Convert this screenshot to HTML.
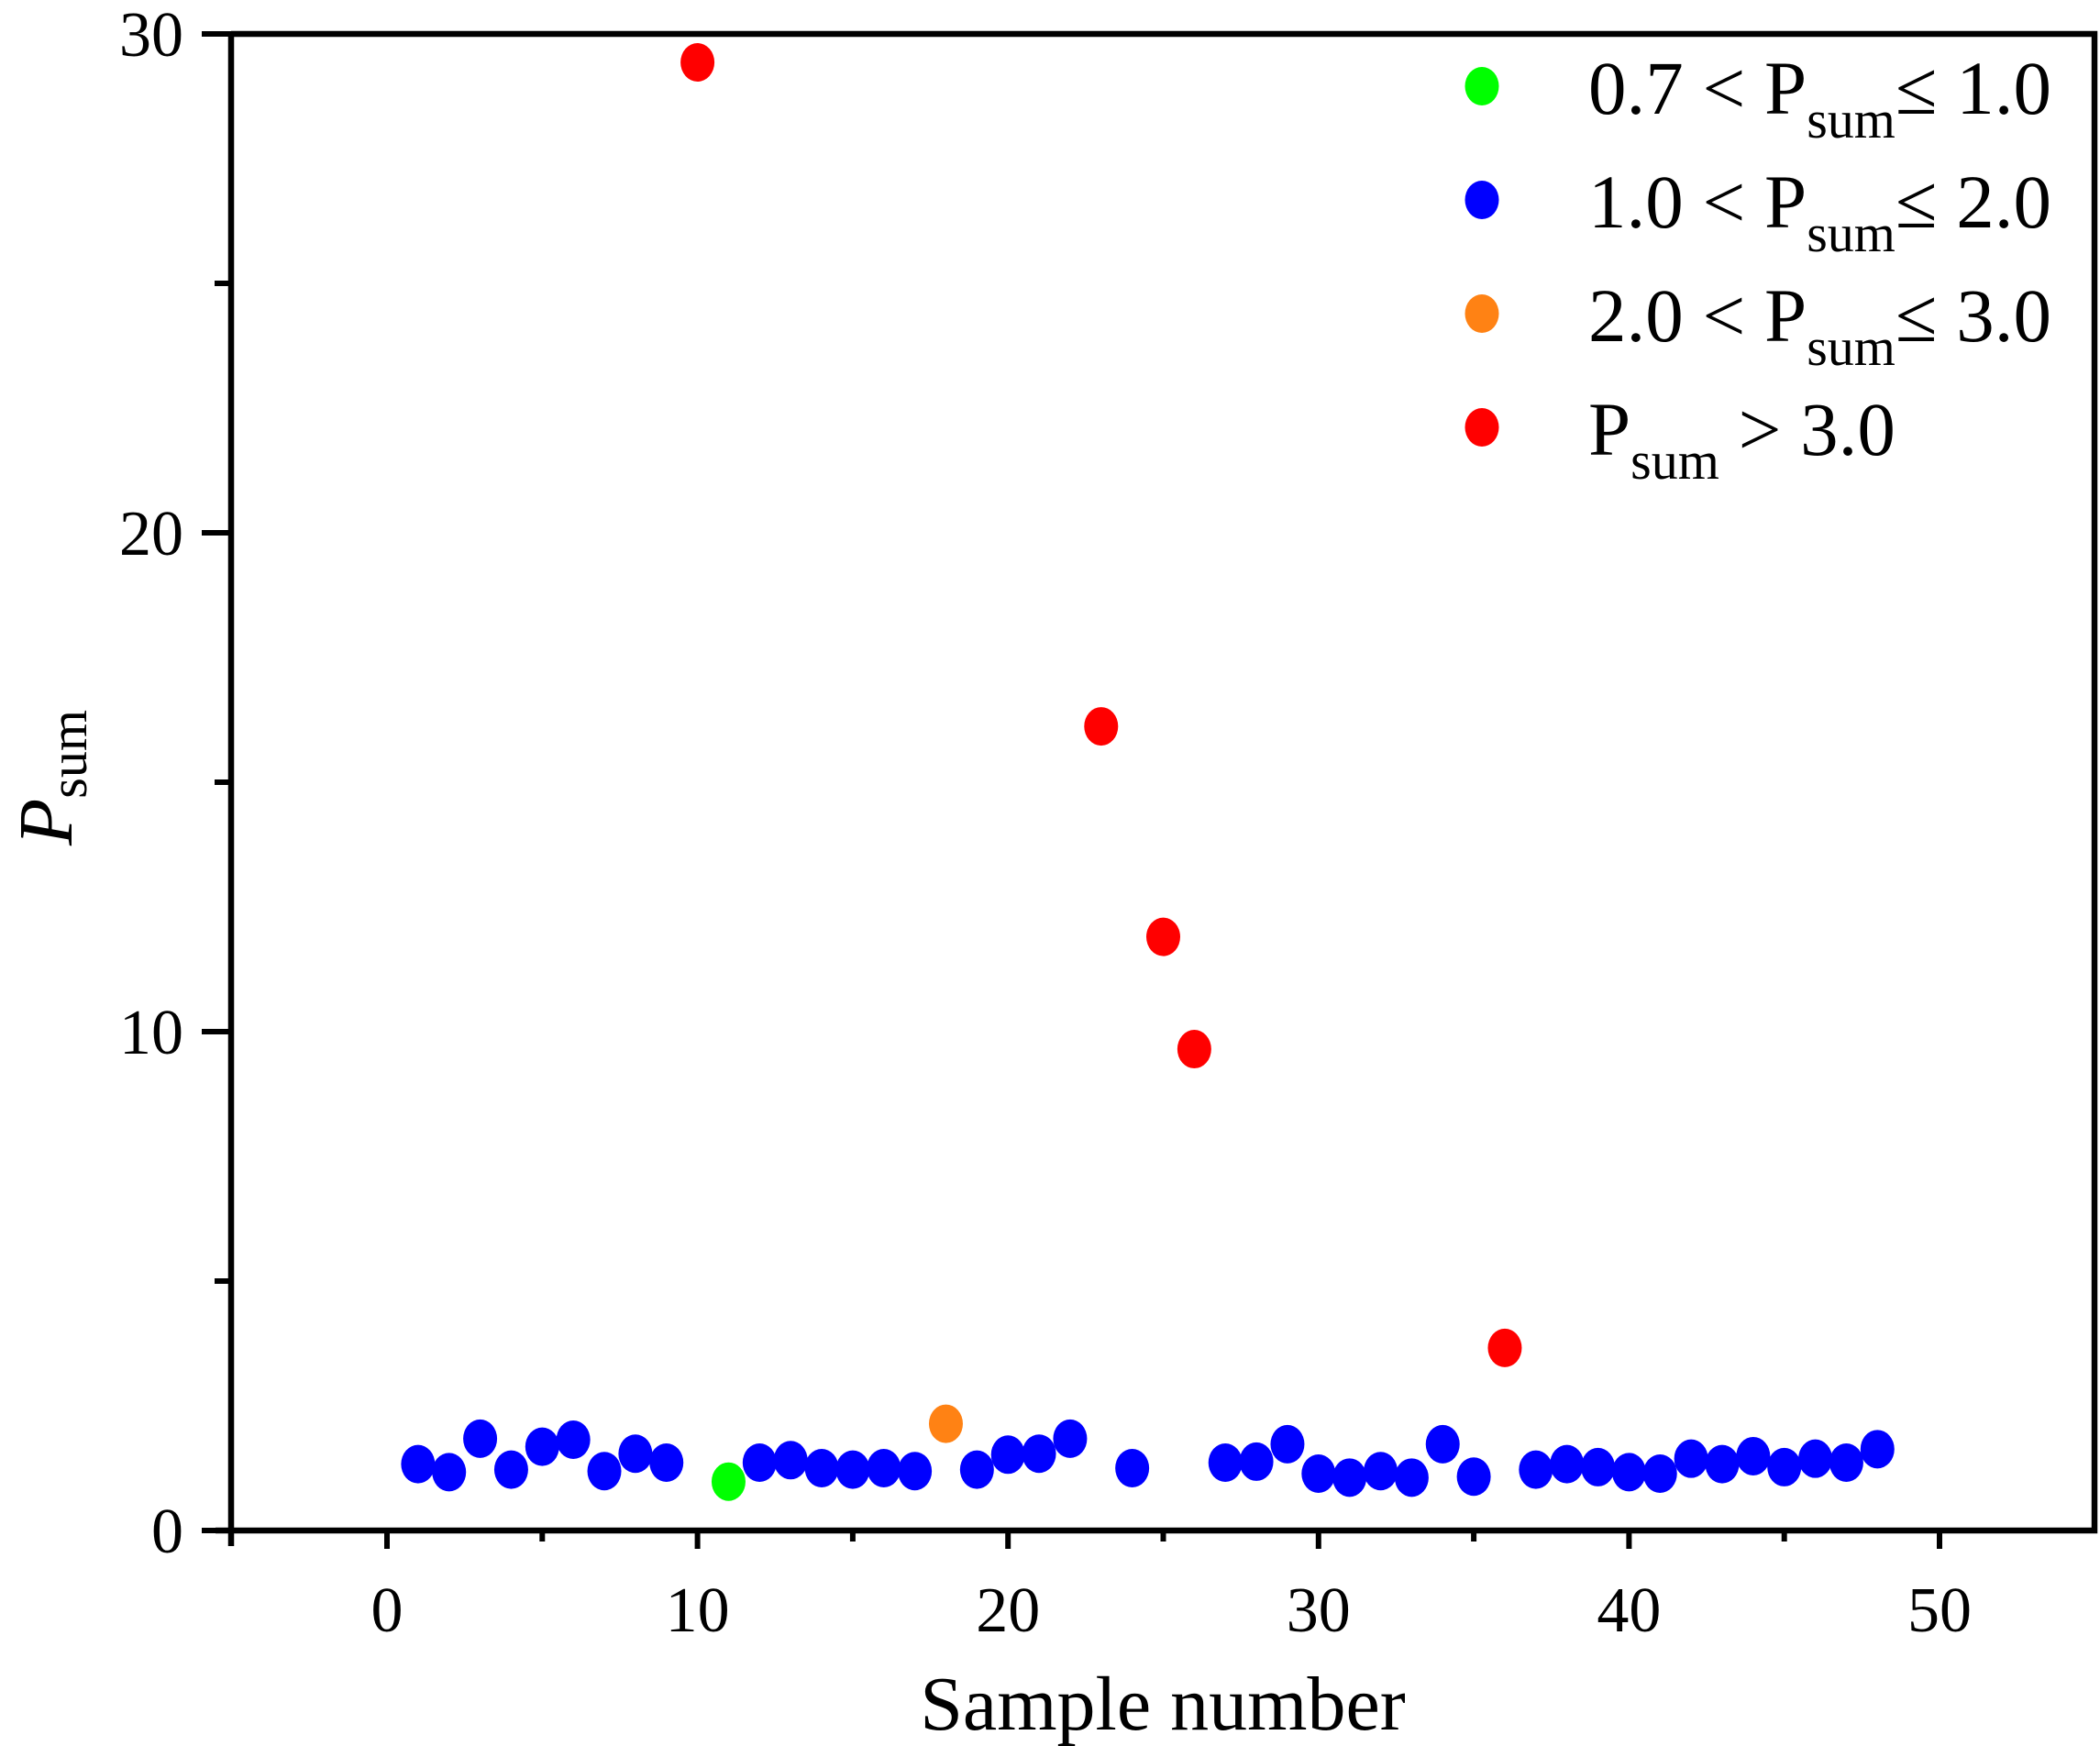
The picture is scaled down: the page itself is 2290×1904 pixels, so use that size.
<!DOCTYPE html>
<html><head><meta charset="utf-8"><style>
html,body{margin:0;padding:0;background:#fff}
svg{display:block;font-family:"Liberation Serif",serif}
</style></head><body>
<svg id="chart" width="2290" height="1904" viewBox="0 0 2290 1904" xmlns="http://www.w3.org/2000/svg">
<g id="axes"></g>
<g id="marks"></g>
<g id="legend"></g>
<text x="1268" y="1886" font-size="84" text-anchor="middle">Sample number</text>
<text transform="translate(78,848) rotate(-90)" font-size="84" text-anchor="middle"><tspan font-style="italic">P</tspan><tspan font-size="58" dy="16">sum</tspan></text>
</svg>
<script>
const samples=[1,2,3,4,5,6,7,8,9,10,11,12,13,14,15,16,17,18,19,20,21,22,23,24,25,26,27,28,29,30,31,32,33,34,35,36,37,38,39,40,41,42,43,44,45,46,47,48];
const psum=[1.33,1.17,1.84,1.22,1.68,1.82,1.19,1.54,1.36,29.43,0.98,1.36,1.41,1.25,1.22,1.25,1.19,2.14,1.22,1.52,1.54,1.84,16.12,1.25,11.9,9.65,1.36,1.38,1.73,1.14,1.06,1.19,1.06,1.73,1.08,3.66,1.22,1.33,1.27,1.17,1.14,1.44,1.33,1.49,1.27,1.44,1.36,1.63];
const xTicks=[0,10,20,30,40,50];
const yTicks=[0,10,20,30];
const legendLabels=[["0.7 < P","sum","≤ 1.0"],["1.0 < P","sum","≤ 2.0"],["2.0 < P","sum","≤ 3.0"],["P","sum"," > 3.0"]];
const legendColors=["#00ff00","#0000ff","#ff8214","#ff0000"];

const NS="http://www.w3.org/2000/svg";
const L=252,R=2284,T=37,B=1669;
const X=v=>422+(v-0)*(2115-422)/50;
const Y=v=>B-(v-0)*(B-T)/30;
function mk(tag,attrs,parent){const e=document.createElementNS(NS,tag);for(const k in attrs)e.setAttribute(k,attrs[k]);parent.appendChild(e);return e;}
function color(v){if(v<=1.0)return legendColors[0];if(v<=2.0)return legendColors[1];if(v<=3.0)return legendColors[2];return legendColors[3];}

const axes=document.getElementById('axes');
const frame=mk('path',{d:`M${L},${T} H${R} V${B} H${L-17} M${L},${T} V${B+17}`,fill:'none',stroke:'#000','stroke-width':6.5},axes);


for(let v=0;v<=50;v+=5){
  const major=v%10===0;
  const t=mk('line',{x1:X(v),x2:X(v),y1:B,y2:B+(major?20:12),stroke:'#000','stroke-width':6},axes);
  
  
}
xTicks.forEach(v=>{
  const t=mk('text',{x:X(v),y:1779,'font-size':70,'text-anchor':'middle'},axes);t.textContent=v;
  
  
});
for(let v=0;v<=30;v+=5){
  const major=v%10===0;
  const t=mk('line',{x1:L-(major?32:18),x2:L,y1:Y(v),y2:Y(v),stroke:'#000','stroke-width':6},axes);
  
  
}
yTicks.forEach(v=>{
  const t=mk('text',{x:200,y:Y(v)+24,'font-size':70,'text-anchor':'end'},axes);t.textContent=v;
  
  
});

const marks=document.getElementById('marks');
samples.forEach((s,i)=>{
  const c=mk('ellipse',{cx:X(s),cy:Y(psum[i]),rx:18.5,ry:21,fill:color(psum[i])},marks);
  
  
});

const lg=document.getElementById('legend');
legendLabels.forEach((lab,i)=>{
  const cy=94+i*124;
  const c=mk('ellipse',{cx:1616,cy:cy,rx:18.5,ry:21,fill:legendColors[i]},lg);
  
  
  const t=mk('text',{x:1732,y:cy+30,'font-size':83},lg);
  
  
  const a=mk('tspan',{},t);a.textContent=lab[0];
  const b=mk('tspan',{'font-size':58,dy:26},t);b.textContent=lab[1];
  const d=mk('tspan',{dy:-26},t);d.textContent=lab[2];
});
</script>
</body></html>
